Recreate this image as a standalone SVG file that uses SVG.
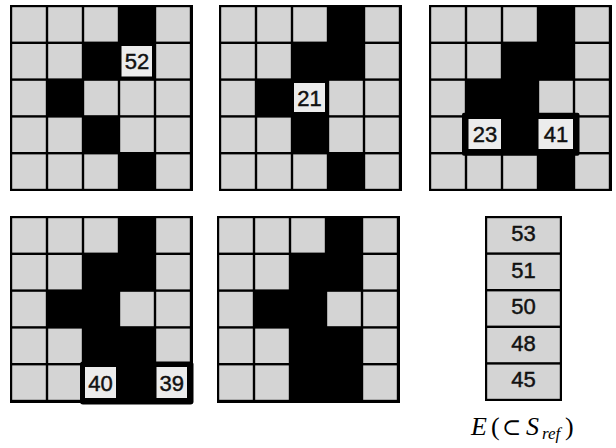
<svg xmlns="http://www.w3.org/2000/svg" width="616" height="448" viewBox="0 0 616 448">
<style>
.bg{fill:#000}
.c{fill:#d4d4d4}
.nb{fill:#ececec}
.blk{fill:#000}
.n{font-family:"Liberation Sans",Arial,Helvetica,sans-serif;font-size:22px;fill:#111;stroke:#111;stroke-width:0.45px;text-anchor:middle}
</style>
<defs>
<rect id="cell" width="33.6" height="34.4" class="c"/>
</defs>

<g id="grid1">
<rect class="bg" x="10" y="5" width="183" height="186"/>
<use href="#cell" x="12.2" y="7.2"/><use href="#cell" x="48.2" y="7.2"/><use href="#cell" x="84.2" y="7.2"/><use href="#cell" x="156.2" y="7.2"/>
<use href="#cell" x="12.2" y="44"/><use href="#cell" x="48.2" y="44"/><use href="#cell" x="156.2" y="44"/>
<use href="#cell" x="12.2" y="80.8"/><use href="#cell" x="84.2" y="80.8"/><use href="#cell" x="120.2" y="80.8"/><use href="#cell" x="156.2" y="80.8"/>
<use href="#cell" x="12.2" y="117.6"/><use href="#cell" x="48.2" y="117.6"/><use href="#cell" x="120.2" y="117.6"/><use href="#cell" x="156.2" y="117.6"/>
<use href="#cell" x="12.2" y="154.4"/><use href="#cell" x="48.2" y="154.4"/><use href="#cell" x="84.2" y="154.4"/><use href="#cell" x="156.2" y="154.4"/>
<rect class="nb" x="121.5" y="46" width="30.5" height="30.5"/>
<text class="n" x="137" y="69">52</text>
</g>

<g id="grid2">
<rect class="bg" x="219" y="5" width="183" height="186"/>
<use href="#cell" x="221.2" y="7.2"/><use href="#cell" x="257.2" y="7.2"/><use href="#cell" x="293.2" y="7.2"/><use href="#cell" x="365.2" y="7.2"/>
<use href="#cell" x="221.2" y="44"/><use href="#cell" x="257.2" y="44"/><use href="#cell" x="365.2" y="44"/>
<use href="#cell" x="221.2" y="80.8"/><use href="#cell" x="329.2" y="80.8"/><use href="#cell" x="365.2" y="80.8"/>
<use href="#cell" x="221.2" y="117.6"/><use href="#cell" x="257.2" y="117.6"/><use href="#cell" x="329.2" y="117.6"/><use href="#cell" x="365.2" y="117.6"/>
<use href="#cell" x="221.2" y="154.4"/><use href="#cell" x="257.2" y="154.4"/><use href="#cell" x="293.2" y="154.4"/><use href="#cell" x="365.2" y="154.4"/>
<rect class="nb" x="294" y="83" width="31" height="29"/>
<text class="n" x="309.5" y="105.5">21</text>
</g>

<g id="grid3">
<rect class="bg" x="429" y="5" width="183" height="186"/>
<use href="#cell" x="431.2" y="7.2"/><use href="#cell" x="467.2" y="7.2"/><use href="#cell" x="503.2" y="7.2"/><use href="#cell" x="575.2" y="7.2"/>
<use href="#cell" x="431.2" y="44"/><use href="#cell" x="467.2" y="44"/><use href="#cell" x="575.2" y="44"/>
<use href="#cell" x="431.2" y="80.8"/><use href="#cell" x="539.2" y="80.8"/><use href="#cell" x="575.2" y="80.8"/>
<use href="#cell" x="431.2" y="117.6"/><use href="#cell" x="575.2" y="117.6"/>
<use href="#cell" x="431.2" y="154.4"/><use href="#cell" x="467.2" y="154.4"/><use href="#cell" x="503.2" y="154.4"/><use href="#cell" x="575.2" y="154.4"/>
<rect class="blk" x="462" y="112.8" width="117.5" height="43" rx="2"/>
<rect class="nb" x="468.5" y="119" width="32.5" height="30"/>
<rect class="nb" x="538.5" y="119" width="34.5" height="30"/>
<text class="n" x="485" y="142">23</text>
<text class="n" x="556" y="142">41</text>
</g>

<g id="grid4">
<rect class="bg" x="10" y="216" width="183" height="187"/>
<use href="#cell" x="12.2" y="218.2"/><use href="#cell" x="48.2" y="218.2"/><use href="#cell" x="84.2" y="218.2"/><use href="#cell" x="156.2" y="218.2"/>
<use href="#cell" x="12.2" y="255"/><use href="#cell" x="48.2" y="255"/><use href="#cell" x="156.2" y="255"/>
<use href="#cell" x="12.2" y="291.8"/><use href="#cell" x="120.2" y="291.8"/><use href="#cell" x="156.2" y="291.8"/>
<use href="#cell" x="12.2" y="328.6"/><use href="#cell" x="48.2" y="328.6"/><use href="#cell" x="156.2" y="328.6"/>
<use href="#cell" x="12.2" y="365.4"/><use href="#cell" x="48.2" y="365.4"/>
<rect class="blk" x="80" y="361.5" width="113.5" height="43" rx="3"/>
<rect class="nb" x="85" y="367" width="31" height="31"/>
<rect class="nb" x="156.5" y="367" width="30.5" height="31"/>
<text class="n" x="100.5" y="390.5">40</text>
<text class="n" x="171.8" y="390.5">39</text>
</g>

<g id="grid5">
<rect class="bg" x="217" y="216" width="183" height="187"/>
<use href="#cell" x="219.2" y="218.2"/><use href="#cell" x="255.2" y="218.2"/><use href="#cell" x="291.2" y="218.2"/><use href="#cell" x="363.2" y="218.2"/>
<use href="#cell" x="219.2" y="255"/><use href="#cell" x="255.2" y="255"/><use href="#cell" x="363.2" y="255"/>
<use href="#cell" x="219.2" y="291.8"/><use href="#cell" x="327.2" y="291.8"/><use href="#cell" x="363.2" y="291.8"/>
<use href="#cell" x="219.2" y="328.6"/><use href="#cell" x="255.2" y="328.6"/><use href="#cell" x="363.2" y="328.6"/>
<use href="#cell" x="219.2" y="365.4"/><use href="#cell" x="255.2" y="365.4"/><use href="#cell" x="363.2" y="365.4"/>
</g>

<g id="column">
<rect class="bg" x="485" y="216" width="77" height="185"/>
<rect class="c" x="487.2" y="218.2" width="72.6" height="34.2"/>
<rect class="c" x="487.2" y="254.8" width="72.6" height="34.2"/>
<rect class="c" x="487.2" y="291.4" width="72.6" height="34.2"/>
<rect class="c" x="487.2" y="328" width="72.6" height="34.2"/>
<rect class="c" x="487.2" y="364.6" width="72.6" height="34.2"/>
<text class="n" x="523.5" y="241">53</text>
<text class="n" x="523.5" y="277.6">51</text>
<text class="n" x="523.5" y="314.2">50</text>
<text class="n" x="523.5" y="350.8">48</text>
<text class="n" x="523.5" y="387.4">45</text>
</g>

<g id="label">
<text font-family="Liberation Serif, Times New Roman, serif" font-size="26" fill="#000" y="435"><tspan x="471" font-style="italic">E</tspan><tspan x="491">(</tspan><tspan x="502" font-family="DejaVu Serif, serif" font-size="23">⊂</tspan><tspan x="526" font-style="italic">S</tspan><tspan x="542" dy="4" font-size="17" font-style="italic">ref</tspan><tspan x="565" dy="-4">)</tspan></text>
</g>
</svg>
